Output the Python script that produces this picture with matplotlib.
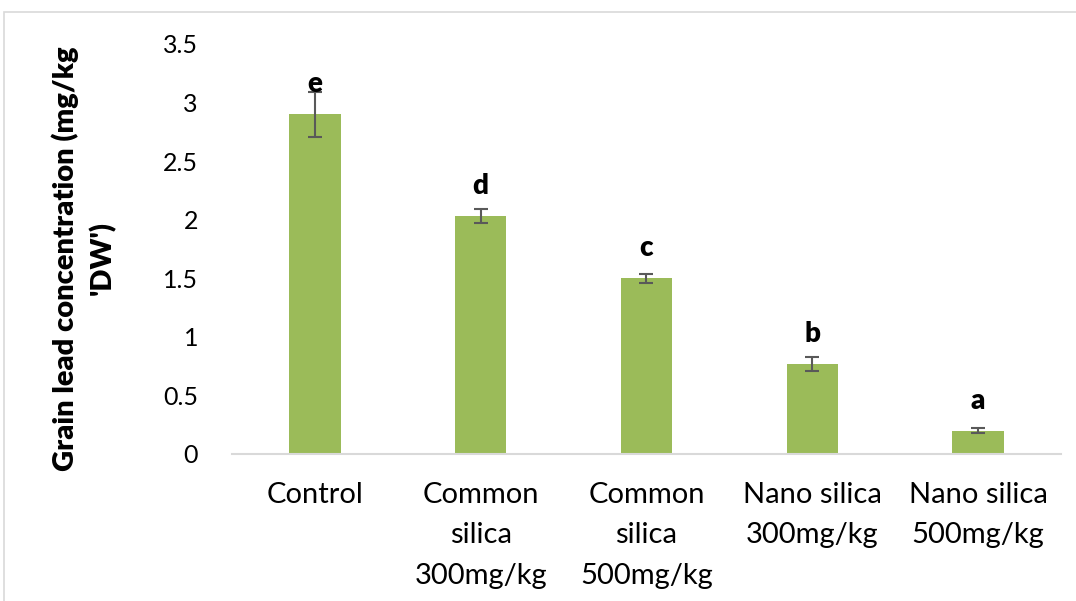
import matplotlib.pyplot as plt
from matplotlib.patches import Rectangle
import numpy as np

# Grain lead concentration per treatment
treatments = ["Control", "Common\nsilica\n300mg/kg", "Common\nsilica\n500mg/kg",
              "Nano silica\n300mg/kg", "Nano silica\n500mg/kg"]
lead_conc = [2.90, 2.03, 1.50, 0.77, 0.20]
lead_err = [0.19, 0.06, 0.04, 0.06, 0.02]
groups = ["e", "d", "c", "b", "a"]

plt.rcParams['font.family'] = ['Lato', 'DejaVu Sans']

fig = plt.figure(figsize=(10.76, 6.01), dpi=100)
ax = fig.add_axes([0.2156, 0.2446, 0.7704, 0.6822])

x = np.arange(len(treatments))
ax.bar(x, lead_conc, width=0.31, color="#9bbb59", zorder=2)
ax.errorbar(x, lead_conc, yerr=lead_err, fmt="none", ecolor="#595959",
            elinewidth=1.5, capsize=5, capthick=1.5, zorder=3)

# significance letters sit a fixed distance above each bar
for xi, val, g in zip(x, lead_conc, groups):
    ax.annotate(g, (xi, val), xytext=(0, 21.5), textcoords="offset points",
                ha="center", va="center", fontsize=20, fontweight="heavy", zorder=4)

ax.set_xlim(-0.5, len(treatments) - 0.5)
ax.set_ylim(0, 3.5)
ax.set_yticks([0, 0.5, 1, 1.5, 2, 2.5, 3, 3.5])
ax.set_yticklabels(["0", "0.5", "1", "1.5", "2", "2.5", "3", "3.5"])
ax.set_xticks(x)
ax.set_xticklabels(treatments, linespacing=1.7)
ax.tick_params(axis="y", length=0, pad=24.5, labelsize=18)
ax.tick_params(axis="x", length=0, pad=20, labelsize=21)

for side in ["top", "right", "left"]:
    ax.spines[side].set_visible(False)
ax.spines["bottom"].set_color("#d9d9d9")
ax.spines["bottom"].set_linewidth(1.5)

fig.text(0.078, 0.57, "Grain lead concentration (mg/kg\n'DW')", rotation=90,
         ha="center", va="center", fontsize=21, fontweight="heavy", linespacing=1.42)

# outer chart frame
fig.patches.append(Rectangle((4 / 1076, -0.1), 1.1, 1.1 - 12 / 601,
                             transform=fig.transFigure, fill=False,
                             edgecolor="#d9d9d9", linewidth=1.2))

fig.savefig("out.png", dpi=100)
